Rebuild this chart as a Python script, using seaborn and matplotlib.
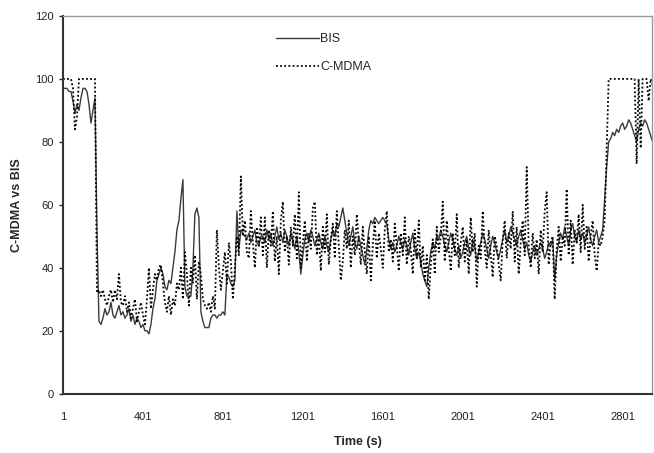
import numpy as np
import pandas as pd
import matplotlib
matplotlib.use("Agg")
import matplotlib.pyplot as plt
import seaborn as sns

# time axis: one reading every 10 s, from 1 s to 2951 s
time_step = 10
time_start = 1

# BIS values (10 per row = 100 s)
bis_rows = [
    [97, 97, 97, 96, 96, 93, 89, 92, 90, 94],
    [97, 97, 96, 92, 86, 90, 94, 52, 23, 22],
    [24, 27, 25, 26, 29, 25, 24, 26, 28, 25],
    [26, 24, 25, 27, 23, 25, 22, 24, 23, 21],
    [22, 20, 20, 19, 22, 27, 30, 36, 38, 40],
    [38, 34, 33, 36, 35, 40, 45, 52, 55, 62],
    [68, 34, 31, 31, 31, 40, 57, 59, 56, 26],
    [23, 21, 21, 21, 24, 25, 25, 24, 25, 25],
    [26, 25, 38, 37, 35, 34, 36, 58, 46, 52],
    [51, 50, 49, 51, 48, 50, 52, 48, 47, 50],
    [50, 48, 52, 49, 51, 47, 50, 53, 49, 51],
    [48, 52, 50, 47, 51, 49, 46, 50, 45, 38],
    [44, 49, 51, 48, 52, 50, 47, 49, 51, 48],
    [46, 50, 47, 45, 49, 52, 50, 54, 53, 56],
    [59, 55, 51, 47, 50, 53, 48, 46, 50, 47],
    [44, 41, 46, 52, 55, 54, 56, 55, 54, 55],
    [56, 55, 54, 49, 46, 48, 45, 47, 50, 48],
    [46, 49, 47, 44, 48, 51, 46, 43, 45, 42],
    [38, 36, 34, 40, 45, 48, 46, 50, 49, 52],
    [50, 47, 45, 48, 51, 49, 46, 44, 47, 43],
    [45, 48, 50, 46, 44, 49, 47, 42, 45, 48],
    [51, 49, 46, 43, 47, 50, 48, 45, 43, 46],
    [49, 52, 48, 50, 53, 51, 49, 47, 50, 52],
    [49, 46, 48, 44, 42, 45, 47, 44, 46, 48],
    [46, 43, 45, 48, 47, 49, 36, 44, 48, 51],
    [49, 53, 50, 47, 52, 54, 50, 48, 52, 49],
    [51, 48, 50, 53, 49, 47, 50, 52, 48, 50],
    [52, 62, 72, 80, 81, 83, 82, 84, 83, 85],
    [86, 84, 85, 87, 86, 84, 82, 80, 84, 86],
    [85, 87, 86, 84, 82, 80],
]

# C-MDMA values
cmdma_rows = [
    [100, 100, 100, 100, 100, 97, 84, 88, 100, 100],
    [100, 100, 100, 100, 100, 100, 100, 32, 33, 31],
    [33, 30, 28, 31, 33, 29, 33, 30, 38, 29],
    [28, 31, 26, 29, 24, 27, 30, 23, 26, 29],
    [25, 22, 30, 40, 27, 33, 38, 36, 40, 41],
    [35, 29, 26, 31, 25, 30, 28, 35, 33, 40],
    [30, 45, 38, 28, 40, 35, 44, 30, 42, 38],
    [30, 28, 27, 29, 26, 31, 27, 52, 40, 33],
    [39, 45, 35, 48, 42, 30, 40, 50, 44, 69],
    [50, 55, 45, 43, 58, 48, 40, 53, 47, 56],
    [44, 56, 40, 52, 47, 58, 42, 50, 38, 55],
    [61, 45, 50, 41, 53, 47, 57, 43, 64, 40],
    [48, 55, 42, 51, 46, 59, 61, 44, 50, 39],
    [53, 45, 57, 41, 49, 54, 43, 58, 47, 36],
    [42, 52, 46, 55, 40, 50, 44, 57, 48, 41],
    [53, 45, 38, 50, 36, 47, 55, 43, 51, 46],
    [40, 52, 58, 45, 49, 42, 54, 47, 39, 51],
    [44, 56, 41, 50, 46, 38, 52, 43, 55, 40],
    [47, 36, 44, 30, 41, 49, 38, 53, 45, 50],
    [61, 42, 55, 46, 39, 51, 44, 57, 40, 48],
    [53, 42, 49, 38, 56, 45, 51, 34, 47, 43],
    [58, 46, 40, 52, 44, 37, 50, 47, 41, 36],
    [49, 55, 43, 51, 46, 58, 42, 53, 38, 48],
    [55, 44, 72, 47, 40, 51, 43, 49, 38, 52],
    [45, 58, 64, 41, 48, 50, 30, 46, 53, 42],
    [50, 47, 65, 44, 55, 41, 52, 48, 57, 45],
    [60, 46, 53, 42, 50, 55, 44, 39, 48, 47],
    [50, 55, 78, 100, 100, 100, 100, 100, 100, 100],
    [100, 100, 100, 100, 100, 100, 100, 73, 100, 78],
    [100, 100, 100, 93, 100, 98],
]

bis = [v for row in bis_rows for v in row]
cmdma = [v for row in cmdma_rows for v in row]
time = time_start + time_step * np.arange(len(bis))

x_ticks = [1, 401, 801, 1201, 1601, 2001, 2401, 2801]
y_ticks = [0, 20, 40, 60, 80, 100, 120]

df = pd.DataFrame({"Time (s)": time, "BIS": bis, "C-MDMA": cmdma})

sns.set_style("white")
plt.rcParams["font.family"] = ["Liberation Sans", "DejaVu Sans"]

fig = plt.figure(figsize=(6.54, 4.53), dpi=100)
ax = fig.add_axes([0.0963, 0.131, 0.9007, 0.8337])

sns.lineplot(data=df, x="Time (s)", y="BIS", ax=ax, color="#3a3a3a",
             linewidth=1.0, label="BIS")
sns.lineplot(data=df, x="Time (s)", y="C-MDMA", ax=ax, color="black",
             linewidth=1.3, linestyle=(0, (1, 1.3)), label="C-MDMA")

ax.set_xlim(1, 2948)
ax.set_ylim(0, 120)
ax.set_xticks(x_ticks)
ax.set_yticks(y_ticks)
ax.tick_params(axis="both", labelsize=8, colors="#222222")
ax.tick_params(axis="y", direction="out", length=3, width=1, left=True)
ax.tick_params(axis="x", length=0, pad=13)

ax.set_xlabel("Time (s)", fontsize=9, fontweight="bold", labelpad=10)
ax.set_ylabel("C-MDMA vs BIS", fontsize=9, fontweight="bold", labelpad=9)

for side in ["left", "bottom"]:
    ax.spines[side].set_color("#333333")
    ax.spines[side].set_linewidth(1.5)
for side in ["top", "right"]:
    ax.spines[side].set_color("#999999")
    ax.spines[side].set_linewidth(1.0)

ax.legend(loc="upper left", bbox_to_anchor=(0.343, 0.985), frameon=False,
          fontsize=9, handlelength=3.4, handletextpad=0.1, labelspacing=1.3)

plt.savefig("out.png", dpi=100)
